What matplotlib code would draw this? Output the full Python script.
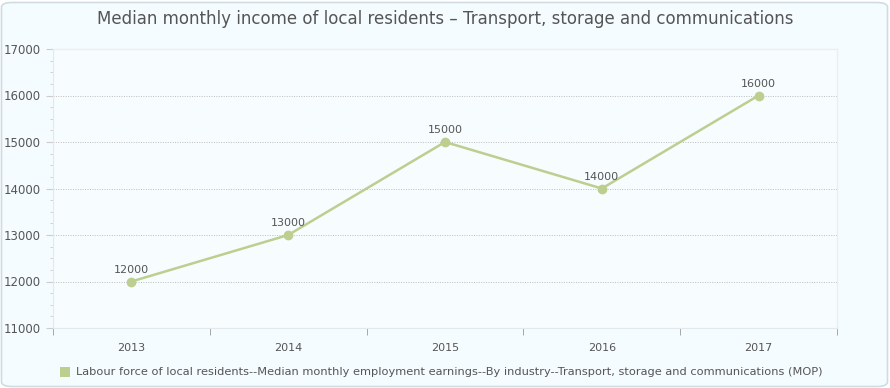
import matplotlib.pyplot as plt
from matplotlib.patches import FancyBboxPatch, Rectangle
from matplotlib.ticker import MultipleLocator

plt.rcParams["font.family"] = ["DejaVu Sans"]

# -------------------
# Data
# -------------------
years = ["2013", "2014", "2015", "2016", "2017"]
income = [12000, 13000, 15000, 14000, 16000]
series_label = ("Labour force of local residents--Median monthly employment earnings"
                "--By industry--Transport, storage and communications (MOP)")
title = "Median monthly income of local residents \u2013 Transport, storage and communications"

line_color = "#bccf8f"
text_color = "#555555"

W, H = 890, 388
fig = plt.figure(figsize=(W / 100, H / 100), dpi=100)
fig.patch.set_facecolor("white")

# rounded card behind everything
card = FancyBboxPatch((1.5 / W, 1.5 / H), (W - 4) / W, (H - 4) / H,
                      boxstyle="round,pad=0,rounding_size=0.012",
                      transform=fig.transFigure, facecolor="#f5fcff",
                      edgecolor="#cfdde3", linewidth=1.2, zorder=-5)
fig.patches.append(card)

# -------------------
# Plot area
# -------------------
left, right, top, bottom = 53, 837, 49, 328
ax = fig.add_axes([left / W, 1 - bottom / H, (right - left) / W, (bottom - top) / H])
ax.set_zorder(2)
ax.set_facecolor("#f7fcff")

x = list(range(len(years)))
ax.plot(x, income, color=line_color, linewidth=1.8, marker="o",
        markersize=6, zorder=3, clip_on=False)
for xi, v in zip(x, income):
    ax.annotate(str(v), (xi, v), xytext=(0, 5), textcoords="offset points",
                ha="center", va="bottom", fontsize=8, color=text_color)

ax.set_xlim(-0.5, len(years) - 0.5)
ax.set_ylim(11000, 17000)

ax.set_xticks(x)
ax.set_xticklabels(years)
ax.set_xticks([i - 0.5 for i in range(len(years) + 1)], minor=True)
ax.tick_params(axis="x", which="major", length=0, pad=11, labelsize=8, labelcolor=text_color)
ax.tick_params(axis="x", which="minor", length=5, color="#999999", direction="out")

ax.yaxis.set_major_locator(MultipleLocator(1000))
ax.yaxis.set_minor_locator(MultipleLocator(250))
ax.tick_params(axis="y", which="major", length=5, color="#cccccc", labelsize=8.5,
               labelcolor=text_color, pad=4)
ax.tick_params(axis="y", which="minor", length=2, color="#cccccc")

for v in range(12000, 17000, 1000):
    ax.axhline(v, color="#bdbdbd", linewidth=0.7, linestyle=(0, (1, 1.5)), zorder=1)

for side in ["top", "right"]:
    ax.spines[side].set_color("#eaf0f2")
    ax.spines[side].set_linewidth(1)
ax.spines["left"].set_color("#e3e8ea")
ax.spines["bottom"].set_color("#e3e8ea")

# -------------------
# Title and legend
# -------------------
fig.text(0.5, 1 - 19 / H, title, ha="center", va="center",
         fontsize=12, color=text_color)
fig.patches.append(Rectangle((60 / W, 1 - 377 / H), 10 / W, 10 / H,
                             transform=fig.transFigure, facecolor=line_color,
                             edgecolor="none"))
fig.text(76 / W, 1 - 372 / H, series_label, ha="left", va="center",
         fontsize=8.2, color=text_color)

fig.savefig("out.png", dpi=100)
